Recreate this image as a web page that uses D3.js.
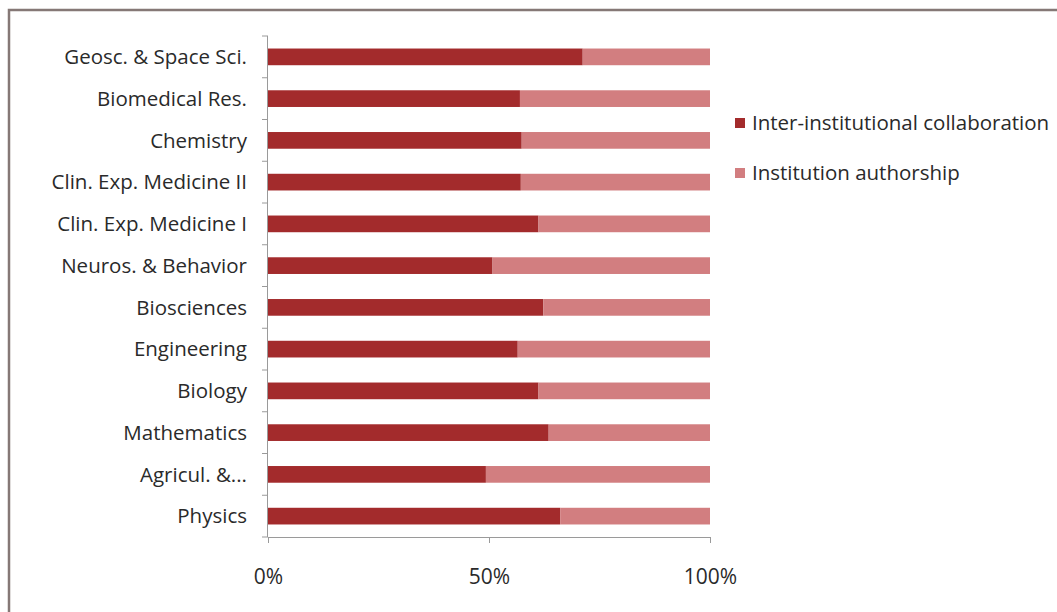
<!DOCTYPE html>
<html>
<head>
<meta charset="utf-8">
<script src="https://cdn.jsdelivr.net/npm/d3@7"></script>
<style>
  body { margin: 0; background: #fff; }
  svg { display: block; font-family: "Open Sans", "Noto Sans", sans-serif; }
</style>
</head>
<body>
<div id="chart"></div>
<script>
// categories from top to bottom
var categories = ["Geosc. & Space Sci.", "Biomedical Res.", "Chemistry", "Clin. Exp. Medicine II",
  "Clin. Exp. Medicine I", "Neuros. & Behavior", "Biosciences", "Engineering", "Biology",
  "Mathematics", "Agricul. &...", "Physics"];
// share of inter-institutional collaboration (rest is institution authorship)
var interShare = [0.712, 0.570, 0.574, 0.572, 0.612, 0.508, 0.623, 0.565, 0.612, 0.635, 0.493, 0.661];
var instShare = interShare.map(function(d) { return 1 - d; });
var seriesNames = ["Inter-institutional collaboration", "Institution authorship"];
var tickValues = [0, 0.5, 1];

var width = 1057, height = 612,
    margin = {top: 36, left: 268, right: 347, bottom: 75},
    colors = ["#a32b2c", "#d27e80"],
    textCol = "#2a2a2a",
    fontSize = 20.5;

var svg = d3.select("#chart").append("svg")
    .attr("width", width).attr("height", height);

// outer frame
svg.append("rect")
    .attr("x", 9).attr("y", 10)
    .attr("width", width + 20).attr("height", height + 20)
    .attr("fill", "none").attr("stroke", "#857876").attr("stroke-width", 2.5);

var x = d3.scaleLinear().domain([0, 1]).range([margin.left, width - margin.right]);
var y = d3.scaleBand().domain(categories)
    .range([margin.top, height - margin.bottom])
    .paddingInner(0.6).paddingOuter(0.3);

var rows = categories.map(function(c, i) {
  return {cat: c, a: interShare[i], b: instShare[i]};
});

var g = svg.append("g");
g.selectAll("rect.inter").data(rows).enter().append("rect")
    .attr("class", "inter")
    .attr("x", x(0))
    .attr("y", function(d) { return y(d.cat); })
    .attr("width", function(d) { return x(d.a) - x(0); })
    .attr("height", y.bandwidth())
    .attr("fill", colors[0]);
g.selectAll("rect.inst").data(rows).enter().append("rect")
    .attr("class", "inst")
    .attr("x", function(d) { return x(d.a); })
    .attr("y", function(d) { return y(d.cat); })
    .attr("width", function(d) { return x(d.a + d.b) - x(d.a); })
    .attr("height", y.bandwidth())
    .attr("fill", colors[1]);

// left axis: line plus ticks between categories
var yTop = margin.top, yBot = height - margin.bottom;
var step = (yBot - yTop) / categories.length;
var axisCol = "#9a9a9a";
svg.append("line")
    .attr("x1", x(0) - 0.5).attr("x2", x(0) - 0.5)
    .attr("y1", yTop).attr("y2", yBot)
    .attr("stroke", axisCol);
d3.range(categories.length + 1).forEach(function(i) {
  svg.append("line")
      .attr("x1", x(0) - 6).attr("x2", x(0))
      .attr("y1", yTop + i * step).attr("y2", yTop + i * step)
      .attr("stroke", axisCol);
});
svg.selectAll("text.cat").data(categories).enter().append("text")
    .attr("class", "cat")
    .attr("x", 247)
    .attr("y", function(d) { return y(d) + y.bandwidth() / 2; })
    .attr("dy", "0.35em")
    .attr("text-anchor", "end")
    .attr("font-size", fontSize)
    .attr("fill", textCol)
    .text(function(d) { return d; });

// bottom axis
var xAxis = svg.append("g")
    .attr("transform", "translate(0," + yBot + ")")
    .call(d3.axisBottom(x).tickValues(tickValues).tickSize(6).tickFormat(d3.format(".0%")));
xAxis.select(".domain").attr("stroke", axisCol);
xAxis.selectAll(".tick line").attr("stroke", axisCol);
xAxis.selectAll(".tick text")
    .attr("y", 47).attr("dy", 0)
    .attr("font-size", 21).attr("font-family", "'Open Sans', sans-serif").attr("fill", textCol);

// legend
var legend = svg.selectAll("g.legend").data(seriesNames).enter().append("g")
    .attr("class", "legend")
    .attr("transform", function(d, i) { return "translate(735," + (123 + i * 50) + ")"; });
legend.append("rect")
    .attr("x", 0).attr("y", -5).attr("width", 10).attr("height", 10)
    .attr("fill", function(d, i) { return colors[i]; });
legend.append("text")
    .attr("x", 17).attr("dy", "0.35em")
    .attr("font-size", fontSize).attr("fill", textCol)
    .text(function(d) { return d; });
</script>
</body>
</html>
